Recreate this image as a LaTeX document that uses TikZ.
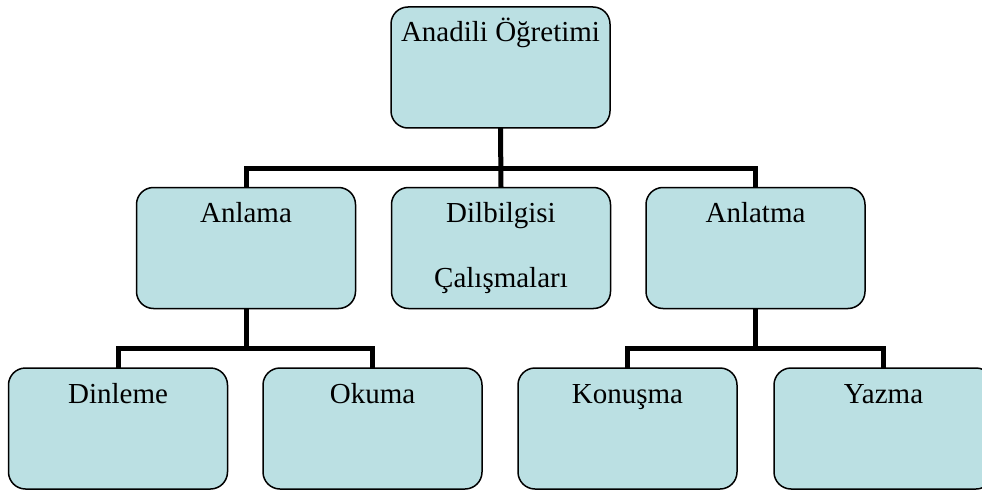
\documentclass[tikz,border=0pt]{standalone}
\usepackage{fontspec}
\setmainfont{Liberation Serif}
\definecolor{boxfill}{RGB}{187,224,227}
\begin{document}
\begin{tikzpicture}[x=1pt,y=-1pt,
  box/.style={draw=black, line width=1.5pt, fill=boxfill, rounded corners=17pt,
    minimum width=219pt, minimum height=121pt, inner sep=0pt, outer sep=0pt},
  lbl/.style={inner sep=0pt, anchor=base, font=\fontsize{29}{34}\selectfont, text=black},
  conn/.style={draw=black, line width=5pt}]
\useasboundingbox (0,0) rectangle (982,492);
\coordinate (bus1) at (501,168);
\coordinate (bus2) at (245,348);
\coordinate (bus3) at (757,348);
% boxes
\node[box] (top) at (500.5,67.5) {};
\node[box] (anlama) at (246,248) {};
\node[box] (dil) at (501,248) {};
\node[box] (anlatma) at (755.5,248) {};
\node[box] (dinleme) at (118,428.5) {};
\node[box] (okuma) at (372.5,428.5) {};
\node[box] (konusma) at (627.5,428.5) {};
\node[box] (yazma) at (883.5,428.5) {};
% connectors
\draw[conn] (top.south) -- (dil.north);
\draw[conn] (anlama.north) -- (anlama.north |- bus1) -- (anlatma.north |- bus1) -- (anlatma.north);
\draw[conn] (anlama.south) -- (anlama.south |- bus2);
\draw[conn] (dinleme.north) -- (dinleme.north |- bus2) -- (okuma.north |- bus2) -- (okuma.north);
\draw[conn] (anlatma.south) -- (anlatma.south |- bus3);
\draw[conn] (konusma.north) -- (konusma.north |- bus3) -- (yazma.north |- bus3) -- (yazma.north);
% labels
\node[lbl] (t-top) at ([yshift=-35pt]top.north) {Anadili Öğretimi};
\node[lbl] (t-anlama) at ([yshift=-35pt]anlama.north) {Anlama};
\node[lbl] (t-dil1) at ([yshift=-35pt]dil.north) {Dilbilgisi};
\node[lbl] (t-dil2) at ([yshift=-100pt]dil.north) {Çalışmaları};
\node[lbl] (t-anlatma) at ([yshift=-35pt]anlatma.north) {Anlatma};
\node[lbl] (t-dinleme) at ([yshift=-35pt]dinleme.north) {Dinleme};
\node[lbl] (t-okuma) at ([yshift=-35pt]okuma.north) {Okuma};
\node[lbl] (t-konusma) at ([yshift=-35pt]konusma.north) {Konuşma};
\node[lbl] (t-yazma) at ([yshift=-35pt]yazma.north) {Yazma};
\end{tikzpicture}
\end{document}
